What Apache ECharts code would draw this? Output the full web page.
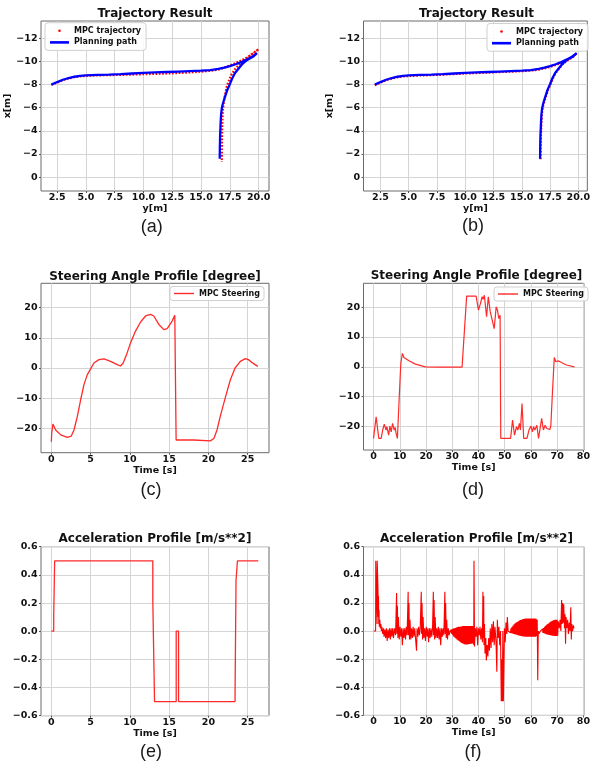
<!DOCTYPE html>
<html><head><meta charset="utf-8">
<script src="https://cdn.jsdelivr.net/npm/echarts@6/dist/echarts.min.js"></script>
<style>html,body{margin:0;padding:0;background:#fff}#c{width:593px;height:764px}</style>
</head><body><div id="c"></div>
<script>
// ---------- data: trajectory panels (pairs are [y[m], x[m]]) ----------
const planPath = [[2.0,-8.0],[2.5,-8.22],[3,-8.42],[3.5,-8.57],[4,-8.68],[4.5,-8.75],[5,-8.79],[6,-8.84],[7,-8.87],[8,-8.91],[9,-8.96],[10,-9.01],[11,-9.05],[12,-9.09],[13,-9.13],[14,-9.17],[15,-9.21],[15.8,-9.26],[16.5,-9.36],[17,-9.47],[17.5,-9.6],[18,-9.76],[18.5,-9.95],[19,-10.18],[19.5,-10.45],[19.86,-10.73],
  [19.5,-10.4],[19.0,-10.14],[18.6,-9.8],[18.28,-9.42],[17.95,-9.0],[17.71,-8.55],[17.48,-8.0],[17.28,-7.54],[17.1,-7.0],[16.99,-6.67],[16.88,-6.3],[16.8,-5.94],[16.74,-5.4],[16.71,-4.93],[16.67,-4.0],[16.65,-3.48],[16.63,-2.5],[16.62,-1.59]];
const mpcA = [[2.0,-7.98],[2.5,-8.18],[3,-8.38],[3.5,-8.53],[4,-8.64],[4.5,-8.72],[5,-8.76],[6,-8.8],[7,-8.82],[8,-8.84],[9,-8.87],[10,-8.9],[11,-8.93],[12,-8.96],[13,-9.0],[14,-9.05],[15,-9.12],[15.8,-9.2],[16.5,-9.3],[17,-9.45],[17.5,-9.65],[18,-9.87],[18.5,-10.1],[19,-10.35],[19.5,-10.7],[20.0,-11.07],
  [19.28,-10.52],[18.57,-9.94],[18.0,-9.42],[17.57,-8.75],[17.23,-7.83],[17.05,-6.96],[16.91,-5.94],[16.85,-4.93],[16.82,-3.48],[16.8,-1.3]];
const mpcB = [[2.0,-7.95],[2.5,-8.17],[3,-8.37],[3.5,-8.52],[4,-8.63],[4.5,-8.7],[5,-8.74],[6,-8.79],[7,-8.82],[8,-8.86],[9,-8.91],[10,-8.96],[11,-9.0],[12,-9.04],[13,-9.08],[14,-9.12],[15,-9.16],[15.8,-9.21],[16.5,-9.3],[17,-9.4],[17.5,-9.53],[18,-9.69],[18.5,-9.89],[19,-10.12],[19.5,-10.4],[19.86,-10.7],
  [19.5,-10.36],[19.0,-10.08],[18.6,-9.75],[18.3,-9.38],[17.98,-8.97],[17.75,-8.52],[17.52,-7.98],[17.32,-7.52],[17.14,-6.98],[17.03,-6.65],[16.92,-6.28],[16.84,-5.92],[16.78,-5.38],[16.75,-4.92],[16.71,-3.99],[16.69,-3.47],[16.67,-2.49],[16.66,-1.55]];
const trajXTicks = [2.5,5,7.5,10,12.5,15,17.5,20];
const trajYTicks = [-12,-10,-8,-6,-4,-2,0];

// ---------- data: steering angle [deg] vs time [s] ----------
const steerC = [[0,-24.4],[0.04,-21.6],[0.2,-18.5],[0.55,-20.5],[1.19,-22.1],[2.03,-22.9],[2.54,-22.5],[2.88,-20.5],[3.3,-16.1],[3.73,-10.5],[4.15,-5.5],[4.58,-2.2],[5.0,-0.3],[5.42,1.66],[6.06,2.77],[6.7,3.0],[7.54,2.2],[8.39,1.1],[8.81,0.66],[9.15,1.66],[9.58,4.43],[10.08,8.3],[10.72,12.2],[11.36,15.2],[12.0,17.2],[12.63,17.7],[13.05,17.2],[13.69,14.4],[14.32,12.7],[14.75,13.0],[15.38,15.5],[15.72,17.4],[15.85,17.2],[15.89,-23.8],[16.44,-23.8],[18.1,-23.8],[20.25,-24.1],[20.7,-23.3],[21.1,-20.5],[21.5,-16.1],[22.2,-9.4],[22.8,-3.9],[23.4,0],[24.07,2.2],[24.7,3.1],[25.1,2.77],[25.76,1.44],[26.3,0.55]];
const steerD = [[0,-24],[0.75,-24],[1.0,-16.8],[1.6,-16.8],[2.0,-24],[2.9,-24],[3.5,-21.2],[4.1,-19.2],[4.75,-21.2],[5.1,-20.1],[5.75,-22.9],[6.25,-19.9],[6.75,-21.8],[7.25,-19.0],[7.9,-21.2],[8.25,-20.3],[8.6,-22.3],[9.1,-24],[9.75,-11.2],[10.4,1.1],[11.0,4.5],[11.6,3.1],[13.5,2.0],[16,0.9],[19.75,0],[24.75,-0.1],[33.75,-0.1],[35.5,23.7],[39.1,23.7],[40,19.0],[40.75,21.2],[41.4,23.5],[41.75,22.6],[42.25,24],[42.6,23.5],[43.1,16.8],[43.75,23.5],[44.5,18.4],[45.4,15.1],[46,12.8],[46.75,20.1],[47.25,19.0],[47.75,16.2],[48.25,17.3],[48.5,-24],[52.25,-24],[53,-17.9],[53.75,-22.9],[54.5,-20.1],[55,-21.2],[55.6,-19.0],[56,-21.2],[56.6,-12.3],[57.25,-24],[58.5,-24],[59.25,-21.2],[60,-19.9],[60.6,-21.8],[61,-20.1],[61.5,-21.2],[62.25,-19.6],[62.9,-24],[63.5,-24],[64.1,-17.3],[64.75,-21.2],[65.4,-19.6],[66,-20.7],[66.6,-20.1],[67.25,-21],[67.6,-19.6],[68.25,-7.8],[68.9,3.1],[69.5,1.7],[70.4,2.0],[73.5,0.6],[76.6,0]];
const timeTicksC = [0,5,10,15,20,25];
const timeTicksD = [0,10,20,30,40,50,60,70,80];
const steerTicks = [-20,-10,0,10,20];

// ---------- data: acceleration [m/s**2] vs time [s] ----------
const accE = [[0,0],[0.3,0.11],[0.42,0.5],[12.92,0.22],[13.14,-0.5],[15.9,0],[16.2,-0.5],[23.4,-0.43],[23.52,0.36],[23.7,0.5],[26.35,0.5]];
const accF = [[0,0],[0.8,0],[0.85,0.5],[1.3,0.5],[1.35,0.05],[1.4,0.5],[1.6,0.5],[1.7,0.3],[1.8,0.1],[1.9,0.25],[2.0,0.05],[2.1,0.15],[2.2,0.03],[2.4,0.08],[2.6,0.02],[2.8,0.05],[3.0,0.0],[3.2,0.03],[3.5,-0.02],[3.8,0.02],[4.0,-0.04],[4.3,0.01],[4.6,-0.05],[4.9,0.02],[5.2,-0.07],[5.5,0.01],[5.8,-0.05],[6.1,0.02],[6.4,-0.06],[6.7,0.02],[7.0,-0.04],[7.3,0.02],[7.6,-0.05],[8.0,0.02],[8.4,-0.03],[8.8,0.27],[8.9,-0.02],[9.1,0.18],[9.3,-0.05],[9.5,0.1],[9.8,-0.06],[10.1,0.03],[10.4,-0.04],[10.7,0.02],[11.0,-0.1],[11.3,0.02],[11.6,-0.05],[11.9,0.02],[12.2,-0.06],[12.5,0.03],[12.8,-0.03],[13.2,0.28],[13.3,-0.03],[13.5,0.2],[13.7,-0.06],[13.9,0.08],[14.2,-0.06],[14.5,0.02],[14.8,-0.05],[15.1,0.03],[15.4,-0.04],[15.7,0.02],[16.0,-0.05],[16.4,-0.14],[16.6,0.02],[16.9,-0.04],[17.2,0.03],[17.5,-0.03],[17.8,0.02],[18.2,0.28],[18.3,-0.02],[18.5,0.2],[18.7,-0.06],[18.9,0.1],[19.2,-0.05],[19.5,0.02],[19.8,-0.07],[20.1,0.03],[20.4,-0.04],[20.7,0.02],[21.0,-0.08],[21.3,0.02],[21.6,-0.05],[21.9,0.02],[22.2,-0.04],[22.5,0.02],[22.8,0.28],[22.9,-0.03],[23.1,0.22],[23.3,-0.06],[23.5,0.1],[23.8,-0.05],[24.1,0.02],[24.4,-0.05],[24.7,0.03],[25.0,-0.06],[25.3,0.02],[25.6,-0.1],[25.9,0.02],[26.2,-0.04],[26.5,0.02],[26.8,-0.03],[27.2,0.28],[27.3,-0.02],[27.5,0.2],[27.7,-0.05],[27.9,0.08],[28.2,-0.06],[28.5,0.02],[28.8,-0.03],
  [29.2,0.005],[29.4,-0.01],[29.6,0.01],[29.8,-0.02],[30.0,0.015],[30.2,-0.03],[30.4,0.018],[30.6,-0.04],[30.8,0.02],[31.0,-0.045],[31.2,0.022],[31.4,-0.052],[31.6,0.025],[31.8,-0.06],[32.0,0.028],[32.2,-0.065],[32.4,0.03],[32.6,-0.07],[32.8,0.03],[33.0,-0.078],[33.2,0.032],[33.4,-0.083],[33.6,0.033],[33.8,-0.087],[34.0,0.035],[34.2,-0.09],[34.4,0.035],[34.6,-0.093],[34.8,0.035],[35.0,-0.095],[35.2,0.035],[35.4,-0.095],[35.6,0.035],[35.8,-0.095],[36.0,0.035],[36.2,-0.093],[36.4,0.035],[36.6,-0.092],[36.8,0.035],[37.0,-0.09],[37.2,0.035],[37.4,-0.09],[37.6,0.035],[37.8,-0.088],[38.0,0.035],
  [38.2,-0.1],[38.3,0.5],[38.4,0.5],[38.5,-0.11],[38.8,0.02],[39.1,-0.04],[39.4,0.03],[39.7,-0.1],[40.0,0.02],[40.3,-0.03],[40.6,0.03],[40.9,-0.06],[41.2,0.02],[41.5,-0.08],[41.7,0.28],[41.8,-0.05],[42.0,0.25],[42.1,-0.1],[42.3,0.05],[42.5,-0.16],[42.8,-0.05],[43.0,-0.21],[43.3,-0.1],[43.6,-0.18],[43.9,-0.05],[44.2,-0.14],[44.5,0.02],[44.8,-0.12],[45.1,0.05],[45.4,-0.08],[45.7,0.07],[46.0,-0.1],[46.3,0.03],[46.7,-0.08],[47.0,-0.29],[47.2,0.08],[47.5,-0.05],[47.8,0.03],[48.1,-0.1],[48.4,0.0],[48.7,-0.5],[48.9,-0.2],[49.1,-0.5],[49.3,0.0],[49.5,-0.5],[49.7,-0.25],[49.9,0.02],[50.2,-0.08],[50.5,0.06],[50.8,-0.02],[51.0,0.1],[51.3,0.0],
  [51.6,0.0],[51.8,-0.008],[52.0,0.01],[52.2,-0.012],[52.4,0.02],[52.6,-0.015],[52.8,0.03],[53.0,-0.018],[53.2,0.04],[53.4,-0.02],[53.6,0.048],[53.8,-0.022],[54.0,0.055],[54.2,-0.025],[54.4,0.06],[54.6,-0.027],[54.8,0.065],[55.0,-0.03],[55.2,0.07],[55.4,-0.032],[55.6,0.075],[55.8,-0.034],[56.0,0.078],[56.2,-0.035],[56.4,0.08],[56.6,-0.036],[56.8,0.083],[57.0,-0.038],[57.2,0.085],[57.4,-0.039],[57.6,0.087],[57.8,-0.04],[58.0,0.09],[58.2,-0.04],[58.4,0.09],[58.6,-0.04],[58.8,0.09],[59.0,-0.04],[59.2,0.09],[59.4,-0.04],[59.6,0.09],[59.8,-0.04],[60.0,0.09],[60.2,-0.04],[60.4,0.09],[60.6,-0.04],[60.8,0.09],[61.0,-0.04],[61.2,0.09],[61.4,-0.04],[61.6,0.09],[61.8,-0.04],[62.0,0.088],[62.2,-0.035],[62.4,0.08],[62.6,-0.35],[62.8,0.0],[63.1,-0.02],
  [63.6,0.0],[63.8,-0.005],[64.0,0.008],[64.2,-0.01],[64.4,0.015],[64.6,-0.013],[64.8,0.022],[65.0,-0.016],[65.2,0.03],[65.4,-0.019],[65.6,0.037],[65.8,-0.022],[66.0,0.044],[66.2,-0.024],[66.4,0.05],[66.6,-0.026],[66.8,0.056],[67.0,-0.028],[67.2,0.062],[67.4,-0.03],[67.6,0.067],[67.8,-0.031],[68.0,0.072],[68.2,-0.033],[68.4,0.075],[68.6,-0.034],[68.8,0.078],[69.0,-0.035],[69.2,0.08],[69.4,-0.035],[69.6,0.08],[69.8,-0.035],[70.0,0.08],[70.2,-0.033],[70.4,0.07],
  [70.8,0.02],[71.1,0.08],[71.4,0.0],[71.7,0.22],[71.9,0.05],[72.1,0.2],[72.3,0.06],[72.5,0.19],[72.8,0.02],[73.0,0.12],[73.2,-0.09],[73.4,0.1],[73.7,0.02],[74.0,0.08],[74.3,-0.02],[74.6,0.06],[74.9,0.0],[75.2,0.17],[75.4,-0.06],[75.6,0.05],[75.9,0.0],[76.2,0.04],[76.4,0.02]];
const accTicks = [-0.6,-0.4,-0.2,0,0.2,0.4,0.6];

// ---------- build chart ----------
const FONT = 'DejaVu Sans';
const TXT = '#111';
const minus = s => String(s).replace('-', '\u2212');
const grids = [
  {left:41, top:21, width:228, height:170},
  {left:363.5, top:21, width:226, height:170},
  {left:41, top:283.3, width:228, height:169.4},
  {left:363.5, top:283.3, width:226, height:166.7},
  {left:41, top:546.7, width:228, height:169},
  {left:363.5, top:546.7, width:226, height:168.7}
].map(g => Object.assign(g, {show:true, borderColor:'#6b6b6b', borderWidth:1, containLabel:false}));

function axis(i, min, max, ticks, fmt, name, gap, extra) {
  return Object.assign({
    gridIndex:i, type:'value', min:min, max:max, name:name, nameLocation:'middle', nameGap:gap,
    nameTextStyle:{fontFamily:FONT, fontWeight:'bold', fontSize:9.5, color:TXT},
    axisLine:{show:false, onZero:false},
    axisTick:{show:true, length:2, customValues:ticks, lineStyle:{color:'#555'}},
    axisLabel:{customValues:ticks, formatter:v => minus(fmt(v)), fontFamily:FONT, fontWeight:'bold', fontSize:9.5, color:TXT},
    splitLine:{show:true, lineStyle:{color:'#d4d4d4', width:1}}
  }, extra || {});
}
const f1 = v => v.toFixed(1), f0 = v => String(Math.round(v));

const xAxis = [
  axis(0, 1.1, 20.9, trajXTicks, f1, 'y[m]', 12),
  axis(1, 1.0, 20.8, trajXTicks, f1, 'y[m]', 12),
  axis(2, -1.32, 27.72, timeTicksC, f0, 'Time [s]', 12),
  axis(3, -3.82, 80.2, timeTicksD, f0, 'Time [s]', 12),
  axis(4, -1.32, 27.72, timeTicksC, f0, 'Time [s]', 12.5),
  axis(5, -3.82, 80.2, timeTicksD, f0, 'Time [s]', 12.5)
];
xAxis.forEach(a => { a.axisLabel.margin = 1.5; });
const yAxis = [
  axis(0, -13.5, 1.2, trajYTicks, f0, 'x[m]', 16.5, {inverse:true}),
  axis(1, -13.5, 1.2, trajYTicks, f0, 'x[m]', 16.5, {inverse:true}),
  axis(2, -28, 28, steerTicks, f0, '', 0),
  axis(3, -27.9, 28, steerTicks, f0, '', 0),
  axis(4, -0.6, 0.6, accTicks, f1, '', 0),
  axis(5, -0.6, 0.6, accTicks, f1, '', 0)
];
yAxis.forEach(a => { a.axisLabel.margin = 3.5; });

const tStyle = {fontFamily:FONT, fontWeight:'bold', fontSize:12, color:TXT};
const cStyle = {fontFamily:'Liberation Sans', fontWeight:'normal', fontSize:18, color:'#1a1a1a'};
const T = (text, x, y, st) => ({text:text, left:x, top:y, textAlign:'center', textVerticalAlign:'middle', padding:0, itemGap:0, textStyle:st});
const title = [
  T('Trajectory Result', 155, 14, tStyle), T('Trajectory Result', 476.5, 14, tStyle),
  T('Steering Angle Profile [degree]', 155, 276.7, tStyle), T('Steering Angle Profile [degree]', 476.5, 276, tStyle),
  T('Acceleration Profile [m/s**2]', 155, 539.3, tStyle), T('Acceleration Profile [m/s**2]', 476.5, 539.3, tStyle),
  T('(a)', 151.7, 226.7, cStyle), T('(b)', 473, 226.5, cStyle),
  T('(c)', 151, 490, cStyle), T('(d)', 473, 490, cStyle),
  T('(e)', 151, 751.7, cStyle), T('(f)', 473, 751.7, cStyle)
];

const legStyle = {fontFamily:FONT, fontWeight:'bold', fontSize:8, color:TXT};
const legBase = {orient:'vertical', selectedMode:false, backgroundColor:'rgba(255,255,255,0.85)', borderColor:'#cfcfcf', borderWidth:1, borderRadius:3, textStyle:legStyle};
const legend = [
  Object.assign({left:45, top:22.7, padding:[4,5], itemGap:3.7, itemWidth:19, itemHeight:2.6,
    data:[{name:'MPC trajectory', icon:'circle'}, {name:'Planning path', icon:'rect'}]}, legBase),
  Object.assign({left:487, top:23.5, padding:[4,5], itemGap:3.7, itemWidth:19, itemHeight:2.6,
    data:[{name:'MPC trajectory', icon:'circle'}, {name:'Planning path', icon:'rect'}]}, legBase),
  Object.assign({left:170, top:286.5, padding:[3,4], itemGap:3, itemWidth:20, itemHeight:1.4,
    data:[{name:'MPC Steering', icon:'rect'}]}, legBase),
  Object.assign({left:494, top:287, padding:[3,4], itemGap:3, itemWidth:20, itemHeight:1.4,
    data:[{name:'MPC Steering', icon:'rect'}]}, legBase)
];

const RED = '#ff0000', BLUE = '#0000ff', LRED = '#ff2a2a';
function line(name, idx, data, color, width, extra) {
  return Object.assign({
    type:'line', name:name, xAxisIndex:idx, yAxisIndex:idx, data:data, symbol:'none', showSymbol:false,
    animation:false, silent:true, itemStyle:{color:color}, lineStyle:{color:color, width:width}
  }, extra || {});
}
const series = [
  line('MPC trajectory', 0, mpcA, RED, 2.2, {lineStyle:{color:RED, width:2.2, type:[1.7,1.6], cap:'butt'}, z:2}),
  line('Planning path', 0, planPath, BLUE, 2.3, {z:3}),
  line('MPC trajectory', 1, mpcB, RED, 2.2, {lineStyle:{color:RED, width:2.2, type:[1.7,1.6], cap:'butt'}, z:2}),
  line('Planning path', 1, planPath, BLUE, 2.3, {z:3}),
  line('MPC Steering', 2, steerC, LRED, 1.3),
  line('MPC Steering', 3, steerD, LRED, 1.2),
  line('accE', 4, accE, LRED, 1.3, {step:'end'}),
  line('accF', 5, accF, RED, 1.1)
];

const chart = echarts.init(document.getElementById('c'), null, {renderer:'canvas'});
chart.setOption({backgroundColor:'#ffffff', animation:false, grid:grids, xAxis:xAxis, yAxis:yAxis, title:title, legend:legend, series:series});
</script></body></html>
